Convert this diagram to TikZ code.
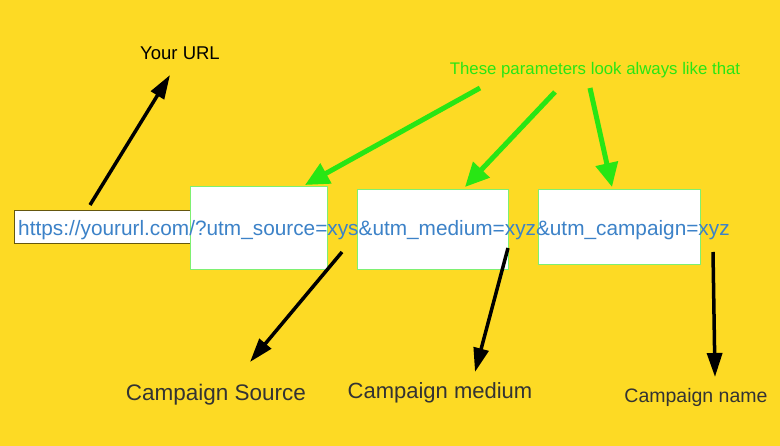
\documentclass[tikz,border=0pt]{standalone}
\usepackage{fontspec}
\setmainfont{Liberation Sans}
\usetikzlibrary{arrows.meta, positioning}
\definecolor{bgyellow}{RGB}{253,218,36}
\definecolor{urlblue}{RGB}{60,130,200}
\definecolor{parmgreen}{RGB}{40,230,20}
\tikzset{
  pbox/.style={draw=parmgreen!60!white, fill=white, line width=1pt},
  blk/.style={-{Triangle[length=24pt,width=15pt]}, line width=3.5pt, black},
  grn/.style={-{Triangle[length=24pt,width=22pt]}, line width=5pt, parmgreen},
  lbl/.style={inner sep=0pt, anchor=center}
}
\begin{document}
\begin{tikzpicture}[x=1pt,y=-1pt]
  \fill[bgyellow] (0,0) rectangle (780,446);
  \useasboundingbox (0,0) rectangle (780,446);
  \node[draw=black!60!bgyellow, fill=white, line width=1pt, minimum width=176pt, minimum height=33pt, inner sep=0pt] (url) at (102,227) {};
  \node[pbox, minimum width=137pt, minimum height=83pt, inner sep=0pt] (src) at (258.5,228.5) {};
  \node[pbox, minimum width=151pt, minimum height=80pt, inner sep=0pt] (med) at (432.5,230) {};
  \node[pbox, minimum width=162pt, minimum height=75pt, inner sep=0pt] (cmp) at (619,227.5) {};
  \node[lbl, anchor=west, text=urlblue, font=\fontsize{20.8}{24}\selectfont] (link) at (18,230)
    {https://yoururl.com/?utm\_source=xys\&utm\_medium=xyz\&utm\_campaign=xyz};

  \node[lbl, font=\fontsize{18.5}{22}\selectfont] (you) at (180,53) {Your URL};
  \node[lbl, text=parmgreen, font=\fontsize{16.8}{20}\selectfont] (note) at (595,70) {These parameters look always like that};
  \node[lbl, text=black!80, font=\fontsize{22.5}{27}\selectfont] (lsrc) at (216,395) {Campaign Source};
  \node[lbl, text=black!80, font=\fontsize{22}{26}\selectfont] (lmed) at (440,393) {Campaign medium};
  \node[lbl, text=black!80, font=\fontsize{19.5}{23}\selectfont] (lcmp) at (696,397) {Campaign name};

  \coordinate (u0) at (90,205);
  \coordinate (s0) at (342,252);
  \coordinate (m0) at (508,248);
  \coordinate (c0) at (713,252);
  \coordinate (g1) at (480,88);
  \coordinate (g2) at (555,92);
  \coordinate (g3) at (590,88);

  \draw[blk] (u0) -- (170,75);
  \draw[blk] (s0) -- (250,362);
  \draw[blk] (m0) -- (475,372);
  \draw[blk] (c0) -- (715,377);

  \draw[grn] (g1) -- (305,185);
  \draw[grn] (g2) -- (465,187);
  \draw[grn] (g3) -- (612,187);
\end{tikzpicture}
\end{document}
